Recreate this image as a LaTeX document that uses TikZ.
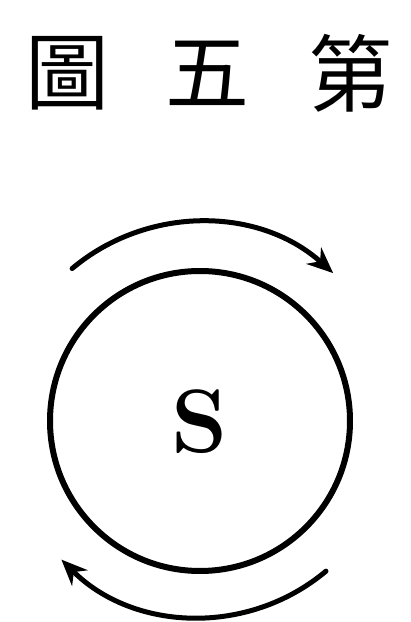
\documentclass[tikz,border=0pt]{standalone}
\usepackage{fontspec}
\newfontfamily\cjk{Noto Sans CJK TC}
\usetikzlibrary{arrows.meta}
\begin{document}
\begin{tikzpicture}[x=1pt,y=1pt,
  titlechar/.style={font=\cjk\fontsize{84}{84}\selectfont, inner sep=0pt},
  ring/.style={circle, draw, line width=6pt, minimum size=300pt, inner sep=0pt},
  turn/.style={line width=5pt, line cap=round, -{Stealth[length=26pt,width=22pt]}}]
\useasboundingbox (0,0) rectangle (411,622);
\node[titlechar] (t1) at (67,549) {圖};
\node[titlechar] (t2) at (207,549) {五};
\node[titlechar] (t3) at (350,549) {第};
\node[ring] (c) at (200,201) {};
\node[font=\bfseries\fontsize{90}{90}\selectfont, inner sep=0pt] (s) at (200,200) {S};
\coordinate (o) at (200,201);
\draw[turn] ([shift={(130:199)}]o) arc[start angle=130, end angle=48, radius=199];
\draw[turn] ([shift={(-50:196)}]o) arc[start angle=-50, end angle=-135, radius=196];
\end{tikzpicture}
\end{document}
